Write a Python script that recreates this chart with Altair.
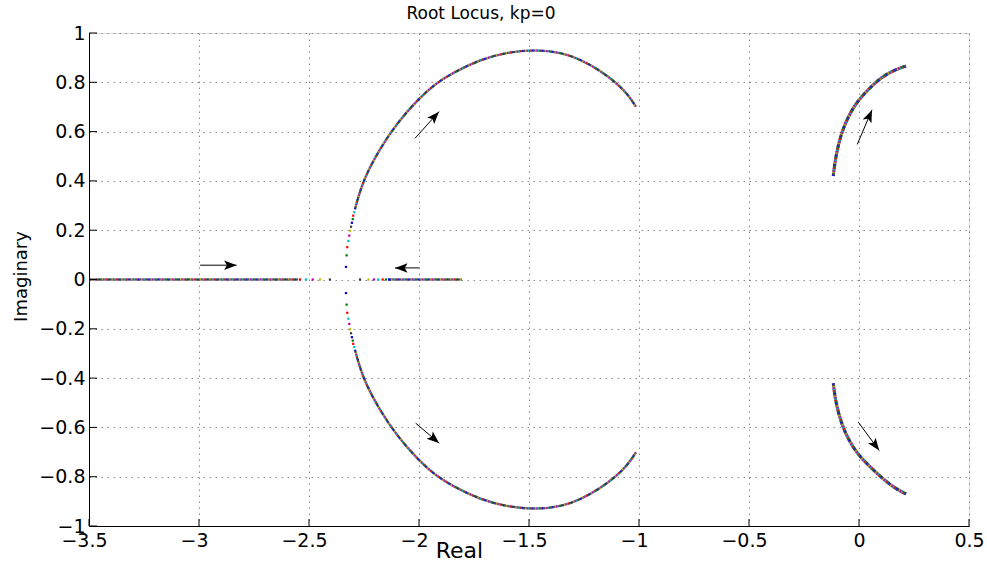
import math
import altair as alt
import pandas as pd

# ---------------- data ----------------
X_TICKS = [-3.5, -3, -2.5, -2, -1.5, -1, -0.5, 0, 0.5]
Y_TICKS = [-1, -0.8, -0.6, -0.4, -0.2, 0, 0.2, 0.4, 0.6, 0.8, 1]
TITLE = "Root Locus, kp=0"

# dense parts of the locus
left_real_x = [-3.5, -2.55]
left_real_y = [0.0, 0.0]
right_real_x = [-2.14, -1.806]
right_real_y = [0.0, 0.0]

upper_arc_x = [-2.291, -2.256, -2.182, -2.10, -1.999, -1.927, -1.85, -1.723, -1.60, -1.465,
               -1.35, -1.268, -1.18, -1.099, -1.05, -1.014]
upper_arc_y = [0.285, 0.40, 0.525, 0.635, 0.736, 0.793, 0.837, 0.892, 0.922, 0.933,
               0.920, 0.893, 0.850, 0.795, 0.75, 0.701]
lower_arc_x = [-2.291, -2.256, -2.182, -2.10, -1.999, -1.927, -1.85, -1.723, -1.60, -1.465,
               -1.35, -1.268, -1.18, -1.099, -1.05, -1.014]
lower_arc_y = [-0.285, -0.40, -0.525, -0.635, -0.736, -0.793, -0.837, -0.892, -0.922, -0.933,
               -0.920, -0.893, -0.850, -0.795, -0.75, -0.701]

right_up_x = [-0.117, -0.106, -0.082, -0.05, -0.01, 0.04, 0.10, 0.16, 0.214]
right_up_y = [0.42, 0.50, 0.59, 0.66, 0.72, 0.77, 0.82, 0.85, 0.866]
right_dn_x = [-0.117, -0.106, -0.078, -0.045, -0.005, 0.05, 0.11, 0.165, 0.214]
right_dn_y = [-0.421, -0.50, -0.59, -0.655, -0.71, -0.76, -0.81, -0.848, -0.870]

# sparse, individually visible points near the break-away point
sparse_x = [-2.541, -2.514, -2.483, -2.45, -2.405,
            -2.268, -2.230, -2.205, -2.185, -2.165, -2.15, -2.135,
            -2.332, -2.329, -2.326, -2.321, -2.317, -2.314, -2.309, -2.305, -2.301, -2.299, -2.294,
            -2.332, -2.329, -2.326, -2.321, -2.317, -2.314, -2.309, -2.305, -2.301, -2.299, -2.294]
sparse_y = [0, 0, 0, 0, 0,
            0, 0, 0, 0, 0, 0, 0,
            0.051, 0.098, 0.131, 0.156, 0.178, 0.198, 0.214, 0.230, 0.245, 0.259, 0.273,
            -0.055, -0.102, -0.135, -0.159, -0.180, -0.202, -0.218, -0.234, -0.248, -0.261, -0.274]
sparse_c = ["r", "c", "m", "y", "k",
            "k", "y", "m", "c", "r", "g", "b",
            "b", "g", "r", "c", "m", "y", "k", "b", "g", "r", "c",
            "b", "g", "r", "c", "m", "y", "k", "b", "g", "r", "c"]

# arrows (tail -> tip)
arrow_x1 = [-2.995, -1.999, -2.018, -2.015, -0.008, -0.003]
arrow_y1 = [0.058, 0.047, 0.573, -0.583, 0.548, -0.579]
arrow_x2 = [-2.829, -2.109, -1.909, -1.908, 0.059, 0.092]
arrow_y2 = [0.058, 0.047, 0.681, -0.664, 0.688, -0.694]

# ---------------- styling ----------------
W, H = 880, 493
XDOM, YDOM = [-3.5, 0.5], [-1, 1]
FONT = "DejaVu Sans"
MCOL = {"b": "#0000ff", "g": "#008000", "r": "#ff0000", "c": "#00bfbf",
        "m": "#bf00bf", "y": "#bfbf00", "k": "#404040"}
ORDER = ["b", "g", "r", "c", "m", "y", "k"]

x_axis = alt.Axis(values=X_TICKS, format="~g", grid=True, gridDash=[1.5, 4.5],
                  gridColor="#8a8a8a", gridWidth=1, ticks=False, domainColor="black",
                  domainWidth=1, labelFont=FONT, labelFontSize=19, labelColor="black",
                  labelPadding=5, labelFlush=False,
                  labelOffset={"expr": "datum.value < 0 ? -5 : 0"},
                  title="Real", titleFont=FONT, titleFontSize=22, titleFontWeight="normal",
                  titleColor="black", titleX=370, titleY=31, titleBaseline="alphabetic",
                  titleAlign="center")
y_axis = alt.Axis(values=Y_TICKS, format="~g", grid=True, gridDash=[1.5, 4.5],
                  gridColor="#8a8a8a", gridWidth=1, ticks=False, domainColor="black",
                  domainWidth=1, labelFont=FONT, labelFontSize=19, labelColor="black",
                  labelPadding=4, labelFlush=False,
                  title="Imaginary", titleFont=FONT, titleFontSize=18, titleFontWeight="normal",
                  titleColor="black", titleX=-63, titleY=243, titleBaseline="alphabetic",
                  titleAlign="center", titleAngle=270)


def X(field):
    return alt.X(field, type="quantitative", scale=alt.Scale(domain=XDOM, nice=False, zero=False),
                 axis=x_axis)


def Y(field):
    return alt.Y(field, type="quantitative", scale=alt.Scale(domain=YDOM, nice=False, zero=False),
                 axis=y_axis)


# ---------------- tables ----------------
rows = []
for name, xs, ys, w in [("lr", left_real_x, left_real_y, 2.0),
                        ("rr", right_real_x, right_real_y, 2.0),
                        ("ua", upper_arc_x, upper_arc_y, 2.2),
                        ("la", lower_arc_x, lower_arc_y, 2.2),
                        ("ru", right_up_x, right_up_y, 3.0),
                        ("rd", right_dn_x, right_dn_y, 3.0)]:
    for i, (a, b) in enumerate(zip(xs, ys)):
        rows.append({"branch": name, "idx": i, "x": a, "y": b, "w": w})
lines_df = pd.DataFrame(rows)

sparse_df = pd.DataFrame({"x": sparse_x, "y": sparse_y, "c": [MCOL[c] for c in sparse_c]})

angles = []
for a1, b1, a2, b2 in zip(arrow_x1, arrow_y1, arrow_x2, arrow_y2):
    dx = (a2 - a1) * W / (XDOM[1] - XDOM[0])
    dy_up = (b2 - b1) * H / (YDOM[1] - YDOM[0])
    angles.append(math.degrees(math.atan2(dx, dy_up)) % 360)
arrows_df = pd.DataFrame({"x": arrow_x1, "y": arrow_y1, "x2": arrow_x2, "y2": arrow_y2,
                          "ang": angles})

xt_df = pd.DataFrame({"x": X_TICKS, "y": [YDOM[0]] * len(X_TICKS)})
yt_df = pd.DataFrame({"x": [XDOM[0]] * len(Y_TICKS), "y": Y_TICKS})

# ---------------- layers ----------------
INTERP = "basis"
base_line = alt.Chart(lines_df).mark_line(interpolate=INTERP, color="#6a5c7c").encode(
    x=X("x"), y=Y("y"), detail="branch:N", order="idx:Q",
    strokeWidth=alt.StrokeWidth("w:Q", scale=None))

SEG = 1.4
dash_layers = []
for i, key in enumerate(ORDER):
    dash_layers.append(
        alt.Chart(lines_df).mark_line(interpolate=INTERP, color=MCOL[key],
                                      strokeDash=[SEG, SEG * 6], strokeDashOffset=i * SEG,
                                      strokeCap="butt", opacity=0.8).encode(
            x=X("x"), y=Y("y"), detail="branch:N", order="idx:Q",
            strokeWidth=alt.StrokeWidth("w:Q", scale=None)))

dots = alt.Chart(sparse_df).mark_square(size=5, filled=True, opacity=1).encode(
    x=X("x"), y=Y("y"), color=alt.Color("c:N", scale=None))

shafts = alt.Chart(arrows_df).mark_rule(color="black", strokeWidth=1).encode(
    x=X("x"), y=Y("y"), x2="x2", y2="y2")

HEAD = "M0,0 L0.38,1 L0,0.78 L-0.38,1 Z"
heads = alt.Chart(arrows_df).mark_point(shape=HEAD, filled=True, color="black", size=625,
                                        opacity=1, strokeWidth=0).encode(
    x=X("x2"), y=Y("y2"), angle=alt.Angle("ang:Q", scale=None))

xticks = alt.Chart(xt_df).mark_tick(orient="vertical", size=7, thickness=1, color="black",
                                    yOffset=-3.5, opacity=1).encode(x=X("x"), y=Y("y"))
yticks = alt.Chart(yt_df).mark_tick(orient="horizontal", size=8, thickness=1, color="black",
                                    xOffset=4, opacity=1).encode(x=X("x"), y=Y("y"))

title = alt.Chart(pd.DataFrame({"t": [TITLE]})).mark_text(
    font=FONT, fontSize=17, color="black", align="center", baseline="alphabetic").encode(
    text="t:N", x=alt.value(392), y=alt.value(-14))

chart = alt.layer(base_line, *dash_layers, dots, shafts, heads, xticks, yticks, title).properties(
    width=W, height=H,
    padding={"left": 89, "top": 33, "right": 18, "bottom": 46},
    autosize=alt.AutoSizeParams(type="none"),
).configure_view(stroke="transparent").configure(background="white")

chart.save("out.html", embed_options={"renderer": "svg", "actions": False})
